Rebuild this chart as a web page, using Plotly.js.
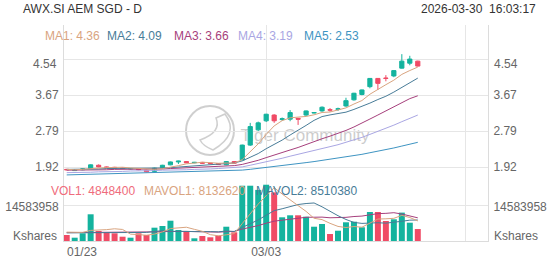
<!DOCTYPE html>
<html><head><meta charset="utf-8">
<script src="https://cdn.plot.ly/plotly-3.0.1.min.js"></script>
<style>html,body{margin:0;padding:0;background:#fff;}#chart{width:552px;height:265px;}</style>
</head><body><div id="chart"></div>
<script>
const dates = ['01/23','01/26','01/27','01/28','01/29','01/30','02/02','02/03','02/04','02/05','02/06','02/09','02/10','02/11','02/12','02/13','02/16','02/19','02/20','02/23','02/24','02/25','02/26','02/27','03/02','03/03','03/04','03/05','03/06','03/09','03/10','03/11','03/12','03/13','03/16','03/17','03/18','03/19','03/20','03/23','03/24','03/25','03/26','03/27','03/30'];
const open  = [1.87,1.84,1.86,1.89,1.97,1.93,1.92,1.90,1.88,1.89,1.85,1.82,1.91,1.98,2.05,2.06,2.03,2.04,2.02,2.01,1.98,2.06,2.10,2.46,2.83,3.05,3.19,3.08,3.09,3.11,3.19,3.24,3.29,3.32,3.33,3.41,3.56,3.69,3.88,4.08,4.09,4.14,4.33,4.45,4.50];
const high  = [1.88,1.87,1.89,1.99,1.99,1.94,1.93,1.91,1.90,1.90,1.86,1.91,1.98,2.06,2.08,2.07,2.05,2.05,2.03,2.02,2.07,2.07,2.47,3.00,3.03,3.22,3.21,3.13,3.31,3.12,3.30,3.26,3.40,3.36,3.37,3.61,3.73,3.81,4.09,4.09,4.16,4.28,4.67,4.63,4.51];
const low   = [1.85,1.83,1.85,1.88,1.92,1.90,1.89,1.88,1.87,1.85,1.80,1.81,1.90,1.97,2.00,2.02,2.02,2.01,2.00,1.98,1.97,2.01,2.09,2.44,2.80,3.02,3.00,3.05,3.04,2.95,3.17,3.23,3.27,3.27,3.29,3.39,3.54,3.67,3.84,3.80,4.01,4.11,4.32,4.40,4.37];
const close = [1.86,1.86,1.88,1.98,1.93,1.91,1.90,1.89,1.89,1.86,1.81,1.90,1.97,2.05,2.07,2.03,2.04,2.02,2.01,1.99,2.06,2.02,2.46,2.91,3.00,3.21,3.05,3.10,3.25,3.09,3.29,3.25,3.38,3.31,3.34,3.54,3.72,3.80,4.08,3.96,4.08,4.27,4.50,4.55,4.38];
const volume = [2430000,1340000,3120000,10820000,4050000,3650000,3120000,1740000,1340000,3120000,2430000,5390000,6080000,8220000,4460000,3770000,1090000,2030000,1500000,2150000,5790000,3520000,22400000,22400000,20700000,22800000,19700000,9600000,10410000,10410000,9840000,5790000,6890000,2840000,4170000,7580000,7820000,5550000,11750000,11740000,8100000,8800000,11500000,7415000,4848400];
const ma1 = [1.87,1.86,1.87,1.89,1.902,1.912,1.920,1.922,1.904,1.890,1.870,1.870,1.886,1.918,1.960,2.004,2.032,2.042,2.034,2.018,2.024,2.020,2.108,2.288,2.490,2.720,2.926,3.054,3.122,3.140,3.156,3.196,3.252,3.264,3.314,3.364,3.458,3.542,3.696,3.820,3.928,4.038,4.178,4.272,4.356];
const ma2 = [1.87,1.87,1.87,1.88,1.88,1.89,1.89,1.89,1.89,1.896,1.891,1.895,1.904,1.911,1.925,1.937,1.951,1.964,1.976,1.989,2.014,2.026,2.075,2.161,2.254,2.372,2.473,2.581,2.705,2.815,2.938,3.061,3.153,3.193,3.227,3.260,3.327,3.397,3.480,3.567,3.646,3.748,3.860,3.984,4.088];
const ma3 = [1.85,1.85,1.85,1.86,1.86,1.86,1.87,1.87,1.87,1.87,1.87,1.88,1.88,1.89,1.90,1.90,1.91,1.92,1.93,1.943,1.953,1.961,1.990,2.036,2.090,2.155,2.212,2.273,2.341,2.402,2.476,2.544,2.614,2.677,2.741,2.816,2.900,2.989,3.093,3.191,3.292,3.405,3.507,3.589,3.658];
const ma4 = [1.79,1.79,1.80,1.80,1.81,1.81,1.82,1.82,1.83,1.83,1.83,1.84,1.85,1.85,1.86,1.86,1.87,1.87,1.88,1.89,1.90,1.91,1.93,1.97,2.01,2.05,2.10,2.14,2.19,2.233,2.281,2.327,2.377,2.422,2.469,2.523,2.584,2.647,2.720,2.790,2.866,2.945,3.029,3.113,3.190];
const ma5 = [1.735,1.74,1.745,1.75,1.755,1.76,1.765,1.77,1.775,1.78,1.785,1.79,1.795,1.80,1.805,1.81,1.815,1.82,1.825,1.83,1.835,1.840,1.852,1.871,1.892,1.916,1.938,1.961,1.986,2.008,2.034,2.059,2.086,2.112,2.138,2.168,2.201,2.235,2.274,2.309,2.348,2.390,2.436,2.483,2.527];
const mavol1 = [3600000,3400000,3500000,4300000,4352000,4596000,4952000,4676000,2780000,2594000,2350000,2804000,3672000,5048000,5316000,5584000,4724000,3914000,2570000,2108000,2512000,2998000,7072000,11252000,14962000,18364000,21600000,19040000,16642000,14584000,11992000,9210000,8668000,7154000,5906000,5454000,5860000,5592000,7374000,8888000,8992000,9188000,10378000,9511000,8132620];
const mavol2 = [3300000,3300000,3300000,3600000,3600000,3600000,3600000,3500000,3400000,3473000,3473000,3878000,4174000,3914000,3955000,3967000,3764000,3793000,3809000,3712000,4048000,3861000,5493000,6911000,8535000,10438000,12299000,13056000,13947000,14773000,15178000,15405000,13854000,11898000,10245000,8723000,7535000,7130000,7264000,7397000,7223000,7524000,7985000,8443000,8510380];
const mavol3 = [3400000,3400000,3400000,3700000,3700000,3700000,3700000,3600000,3600000,3600000,3600000,3700000,3800000,3900000,3900000,3900000,3800000,3700000,3600000,3593000,3761000,3870000,4834000,5413000,6245000,7203000,8032000,8425000,8878000,9243000,9613000,9633000,9674000,9405000,9390000,9581000,9917000,10093000,10606000,11085000,11201000,11465000,10920000,10170000,9378000];
const priceTicks = [1.92, 2.79, 3.67, 4.54];
const priceTickText = ['1.92', '2.79', '3.67', '4.54'];
const volTicks = [14583958];
const volTickText = ['14583958'];
const volUnit = 'Kshares';
const xTickIdx = [25, 50];
const titleText = 'AWX.SI AEM SGD - D';
const timeText = '2026-03-30\u00a0 16:03:17';

const UP = '#14b39e', DOWN = '#f04b65';
const C1 = '#d9a47f', C2 = '#487c98', C3 = '#a63f7c', C4 = '#a9a6e3', C5 = '#3e94c2', CV = '#ef6b7b';
const FONT = 'Liberation Sans, Arial, sans-serif';
const idx = dates.map((d, i) => i);
const volColors = close.map((c, i) => c >= open[i] ? UP : DOWN);

// pixel helpers for layout (plot area 64..488 x 25..241)
const PL = 64, PR = 488, PT = 25, PB = 241;
const px = v => (v - PL) / (PR - PL);
const py = v => (PB - v) / (PB - PT);
const split = py(183);

const line = (y, color, ax) => ({type:'scatter', mode:'lines', x: idx, y: y, xaxis:'x', yaxis: ax,
  line:{color: color, width: 1}, hoverinfo:'skip', showlegend:false});

const traces = [
  {type:'candlestick', x: idx, open: open, high: high, low: low, close: close, xaxis:'x', yaxis:'y',
   increasing:{line:{color:UP, width:1}, fillcolor:UP}, decreasing:{line:{color:DOWN, width:1}, fillcolor:DOWN},
   whiskerwidth:0, hoverinfo:'skip', showlegend:false},
  line(ma5, C5, 'y'), line(ma4, C4, 'y'), line(ma3, C3, 'y'), line(ma2, C2, 'y'), line(ma1, C1, 'y'),
  {type:'bar', x: idx, y: volume, xaxis:'x', yaxis:'y2', marker:{color: volColors, line:{width:0}}, hoverinfo:'skip', showlegend:false},
  line(mavol3, C3, 'y2'), line(mavol2, C2, 'y2'), line(mavol1, C1, 'y2'),
  {type:'scatter', mode:'lines', x: idx, y: close, xaxis:'x', yaxis:'y3', opacity:0, line:{width:0}, hoverinfo:'skip', showlegend:false},
  {type:'scatter', mode:'lines', x: idx, y: volume, xaxis:'x', yaxis:'y4', opacity:0, line:{width:0}, hoverinfo:'skip', showlegend:false}
];

// price axis range from pixel positions of ticks (1.92 @ y167.3, 4.54 @ y59.5)
const pxPerUnit = (167.3 - 59.5) / (priceTicks[3] - priceTicks[0]);
const pMin = priceTicks[0] - (183 - 167.3) / pxPerUnit;
const pMax = priceTicks[0] + (167.3 - PT) / pxPerUnit;
const vMax = volTicks[0] * (PB - 183) / (PB - 205);

const GRID = '#e6e6e6', LINEC = '#dcdcdc', TICKC = '#666';
const tickfont = {family: FONT, size: 12, color: TICKC};
const yBase = {ticks:'', tickfont: tickfont, zeroline:false, fixedrange:true};

// the top price label sits below its grid line (kept inside the panel); the others are centred on theirs
const topLast = priceTicks.length - 1;
const axisText = priceTickText.map((t, i) => i === topLast ? '' : t);

const ann = (text, x, y, color, xanchor, extra) => Object.assign({text: text, xref:'paper', yref:'paper', x: x, y: y,
  xanchor: xanchor || 'left', yanchor:'middle', showarrow:false, font:{family: FONT, size: 12, color: color}}, extra || {});

const annotations = [
  ann(titleText, px(21), py(9), '#333'),
  ann(timeText, px(538), py(9), '#333', 'right'),
  ann('MA1: ' + ma1[ma1.length-1].toFixed(2), px(43), py(36), C1),
  ann('MA2: ' + ma2[ma2.length-1].toFixed(2), px(105), py(36), C2),
  ann('MA3: ' + ma3[ma3.length-1].toFixed(2), px(172), py(36), C3),
  ann('MA4: ' + ma4[ma4.length-1].toFixed(2), px(236), py(36), C4),
  ann('MA5: ' + ma5[ma5.length-1].toFixed(2), px(302), py(36), C5),
  ann('VOL1: ' + volume[volume.length-1], px(49), py(191), CV),
  ann('MAVOL1: ' + mavol1[mavol1.length-1], px(142), py(191), C1),
  ann('MAVOL2: ' + mavol2[mavol2.length-1], px(254), py(191), C2),
  Object.assign(ann(priceTickText[topLast], px(59), priceTicks[topLast], TICKC, 'right'), {yref:'y', yshift:-4.5}),
  Object.assign(ann(priceTickText[topLast], px(492), priceTicks[topLast], TICKC, 'left'), {yref:'y', yshift:-4.5}),
  ann(volUnit, px(59), py(236), TICKC, 'right'),
  ann(volUnit, px(492), py(236), TICKC, 'left'),
  Object.assign(ann(dates[0], 0, py(252), TICKC, 'left'), {xref:'x', xshift:-2})
];

const shapes = [
  {type:'circle', xref:'paper', yref:'paper', x0: px(186), x1: px(234), y0: py(155), y1: py(106), layer:'between',
   line:{color:'rgba(175,175,175,0.6)', width:2}},
  {type:'path', xref:'paper', yref:'paper', layer:'between',
   path: `M ${px(225)},${py(114)} Q ${px(240)},${py(134)} ${px(213)},${py(150)} Q ${px(203)},${py(146)} ${px(200)},${py(140)} Q ${px(222)},${py(132)} ${px(216)},${py(118)} Z`,
   line:{color:'rgba(175,175,175,0.6)', width:1.5}},
  {type:'rect', xref:'paper', yref:'paper', x0: px(238), x1: px(372), y0: py(143), y1: py(123), layer:'between',
   line:{width:0}, fillcolor:'rgba(0,0,0,0)',
   label:{text:'Tiger Community', textposition:'middle center', font:{family: FONT, size: 17, color:'rgba(170,170,170,0.6)'}}}
];

const layout = {
  width: 552, height: 265, margin:{l: PL, r: 552 - PR, t: PT, b: 265 - PB, pad: 0},
  paper_bgcolor:'#fff', plot_bgcolor:'#fff', showlegend:false, dragmode:false,
  boxgap: 0.25, bargap: 0.25,
  xaxis:{range:[-0.34, 52.8], anchor:'y2', tickvals: xTickIdx, ticktext: xTickIdx.map(i => dates[i] || ''),
         showgrid:true, gridcolor: GRID, showline:true, linecolor: LINEC, ticks:'', zeroline:false,
         tickfont: tickfont, rangeslider:{visible:false}, fixedrange:true},
  yaxis: Object.assign({}, yBase, {domain:[split, 1], range:[pMin, pMax], tickvals: priceTicks, ticktext: axisText,
         showgrid:true, gridcolor: GRID, showline:true, linecolor: LINEC, side:'left', ticklabelshift:-1, ticklabelstandoff: 2}),
  yaxis2: Object.assign({}, yBase, {domain:[0, split], range:[0, vMax], tickvals: volTicks, ticktext: volTickText,
         showgrid:true, gridcolor: GRID, showline:true, linecolor: LINEC, side:'left', ticklabelshift:2, ticklabelstandoff: 2}),
  yaxis3: Object.assign({}, yBase, {overlaying:'y', side:'right', range:[pMin, pMax], tickvals: priceTicks, ticktext: axisText,
         showgrid:false, showline:true, linecolor: LINEC, ticklabelshift:-1, ticklabelstandoff: 2}),
  yaxis4: Object.assign({}, yBase, {overlaying:'y2', side:'right', range:[0, vMax], tickvals: volTicks, ticktext: volTickText,
         showgrid:false, showline:true, linecolor: LINEC, ticklabelshift:2, ticklabelstandoff: 2}),
  annotations: annotations, shapes: shapes,
  font:{family: FONT, size: 12, color: TICKC}
};

Plotly.newPlot('chart', traces, layout, {staticPlot:true, displayModeBar:false});
</script></body></html>
